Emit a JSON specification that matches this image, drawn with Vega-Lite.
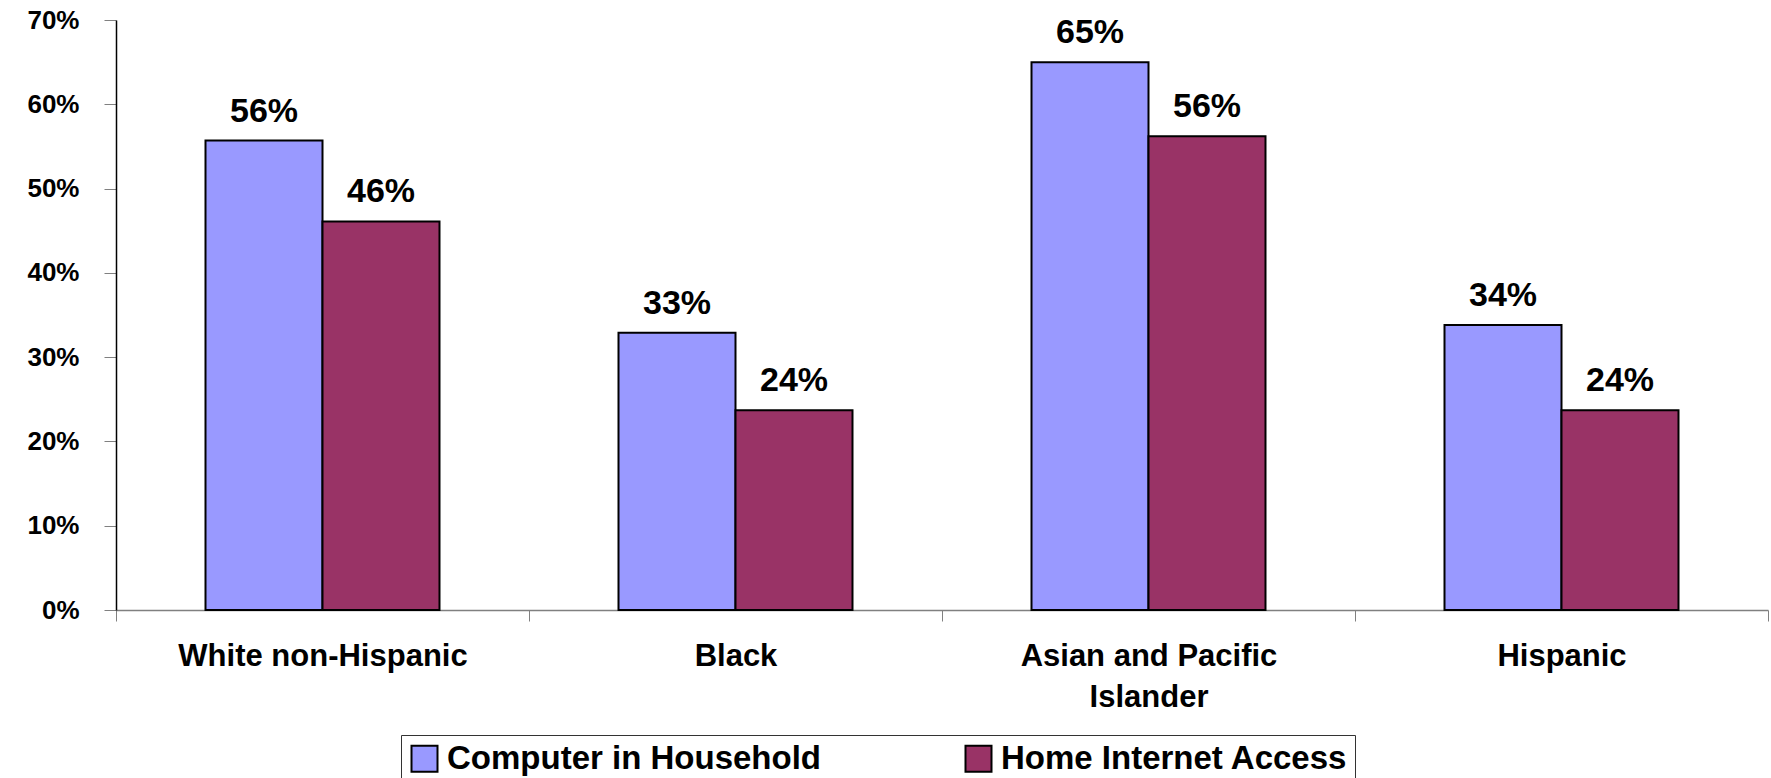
{
  "$schema": "https://vega.github.io/schema/vega-lite/v6.json",
  "width": 1652,
  "height": 590,
  "autosize": {"type": "none"},
  "padding": {"left": 116, "top": 20, "right": 3, "bottom": 168},
  "background": "white",
  "config": {"view": {"stroke": null}, "font": "Liberation Sans"},
  "data": {
    "values": [
      {"group": "White non-Hispanic", "measure": "Computer in Household", "value": 0.557},
      {"group": "White non-Hispanic", "measure": "Home Internet Access", "value": 0.461},
      {"group": "Black", "measure": "Computer in Household", "value": 0.329},
      {"group": "Black", "measure": "Home Internet Access", "value": 0.237},
      {"group": "Asian and Pacific Islander", "measure": "Computer in Household", "value": 0.650},
      {"group": "Asian and Pacific Islander", "measure": "Home Internet Access", "value": 0.562},
      {"group": "Hispanic", "measure": "Computer in Household", "value": 0.338},
      {"group": "Hispanic", "measure": "Home Internet Access", "value": 0.237}
    ]
  },
  "encoding": {
    "x": {
      "field": "group",
      "type": "nominal",
      "sort": ["White non-Hispanic", "Black", "Asian and Pacific Islander", "Hispanic"],
      "scale": {"paddingInner": 0, "paddingOuter": 0},
      "axis": {
        "title": null,
        "labelAngle": 0,
        "tickBand": "extent",
        "tickSize": 11,
        "tickColor": "#808080",
        "domainColor": "#808080",
        "domainWidth": 1.5,
        "labelPadding": 20,
        "labelFontSize": 31,
        "labelFontWeight": "bold",
        "labelColor": "black",
        "labelLineHeight": 41,
        "labelLimit": 0,
        "labelExpr": "datum.label == 'Asian and Pacific Islander' ? ['Asian and Pacific', 'Islander'] : datum.label"
      }
    },
    "xOffset": {
      "field": "measure",
      "type": "nominal",
      "sort": ["Computer in Household", "Home Internet Access"],
      "scale": {"paddingInner": 0, "paddingOuter": 0.765}
    },
    "y": {
      "field": "value",
      "type": "quantitative",
      "scale": {"domain": [0, 0.7]},
      "axis": {
        "title": null,
        "format": ".0%",
        "values": [0, 0.1, 0.2, 0.3, 0.4, 0.5, 0.6, 0.7],
        "grid": false,
        "tickSize": 12,
        "tickColor": "#808080",
        "domainColor": "black",
        "domainWidth": 1.5,
        "labelPadding": 25,
        "labelFontSize": 26,
        "labelFontWeight": "bold",
        "labelColor": "black"
      }
    }
  },
  "layer": [
    {
      "mark": {"type": "bar", "stroke": "black", "strokeWidth": 2},
      "encoding": {
        "color": {
          "field": "measure",
          "type": "nominal",
          "scale": {"domain": ["Computer in Household", "Home Internet Access"], "range": ["#9999FF", "#993366"]},
          "legend": {
            "orient": "none",
            "legendX": 285,
            "legendY": 715,
            "direction": "horizontal",
            "title": null,
            "symbolType": "square",
            "symbolSize": 676,
            "symbolStrokeColor": "black",
            "symbolStrokeWidth": 2,
            "symbolOpacity": 1,
            "labelFontSize": 33,
            "labelFontWeight": "bold",
            "labelColor": "black",
            "labelOffset": 6,
            "labelLimit": 0,
            "columnPadding": 140,
            "padding": 7,
            "strokeColor": "#333333",
            "fillColor": "white"
          }
        }
      }
    },
    {
      "mark": {"type": "text", "dy": -19, "baseline": "alphabetic", "fontSize": 34, "fontWeight": "bold", "color": "black"},
      "encoding": {
        "text": {"field": "value", "type": "quantitative", "format": ".0%"}
      }
    }
  ]
}
